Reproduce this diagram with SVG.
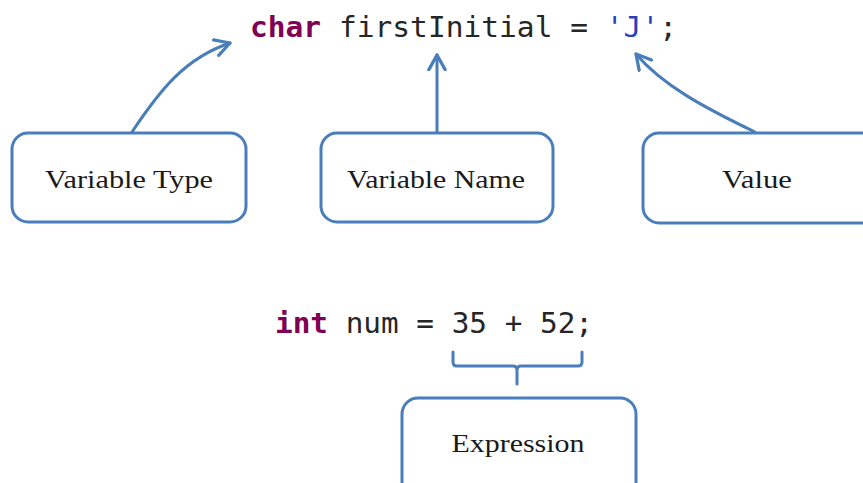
<svg xmlns="http://www.w3.org/2000/svg" width="863" height="483" viewBox="0 0 863 483">
  <style>
    .code { font-family: "DejaVu Sans Mono", "Liberation Mono", monospace; font-size: 29px; fill: #262626; }
    .kw { fill: #7f0055; font-weight: bold; }
    .str { fill: #2a3fc0; }
    .box { fill: #ffffff; stroke: #4a7ebb; stroke-width: 3; }
    .label { font-family: "Liberation Serif", "DejaVu Serif", serif; font-size: 26px; fill: #1a1a1a; text-anchor: middle; }
    .conn { fill: none; stroke: #4a7ebb; stroke-width: 3; stroke-linecap: round; stroke-linejoin: round; }
  </style>
  <defs>
    <marker id="chev" viewBox="0 0 12 12" refX="10" refY="6" markerWidth="6.5" markerHeight="6.5" markerUnits="strokeWidth" orient="auto">
      <path d="M1,1 L10,6 L1,11" fill="none" stroke="#4a7ebb" stroke-width="2" stroke-linecap="round" stroke-linejoin="round"/>
    </marker>
  </defs>
  <rect width="863" height="483" fill="#ffffff"/>

  <g id="code-char">
    <text class="code" x="250" y="37" textLength="427" lengthAdjust="spacingAndGlyphs"><tspan class="kw">char</tspan> firstInitial = <tspan class="str">'J'</tspan>;</text>
  </g>
  <g id="code-int">
    <text class="code" x="275" y="333" textLength="318" lengthAdjust="spacingAndGlyphs"><tspan class="kw">int</tspan> num = 35 + 52;</text>
  </g>

  <g id="connectors">
    <path class="conn" d="M132,132 C160,90 185,58 230,43" marker-end="url(#chev)"/>
    <path class="conn" d="M437,132 L437,55" marker-end="url(#chev)"/>
    <path class="conn" d="M755,132 C705,108 662,85 636,54" marker-end="url(#chev)"/>
    <path class="conn" d="M453,352 L453,362 Q453,366 457,366 L513,366 Q517,366 517,370 L517,384 M517,370 Q517,366 521,366 L578,366 Q582,366 582,362 L582,352"/>
  </g>

  <g id="node-variable-type">
    <rect class="box" x="12" y="133" width="234" height="89" rx="16"/>
    <text class="label" x="129" y="188" textLength="168" lengthAdjust="spacingAndGlyphs">Variable Type</text>
  </g>
  <g id="node-variable-name">
    <rect class="box" x="321" y="133" width="232" height="89" rx="16"/>
    <text class="label" x="436" y="188" textLength="178" lengthAdjust="spacingAndGlyphs">Variable Name</text>
  </g>
  <g id="node-value">
    <rect class="box" x="643" y="133" width="240" height="90" rx="16"/>
    <text class="label" x="757" y="188" textLength="70" lengthAdjust="spacingAndGlyphs">Value</text>
  </g>
  <g id="node-expression">
    <rect class="box" x="402" y="398" width="234" height="100" rx="16"/>
    <text class="label" x="518" y="452" textLength="133" lengthAdjust="spacingAndGlyphs">Expression</text>
  </g>
</svg>
